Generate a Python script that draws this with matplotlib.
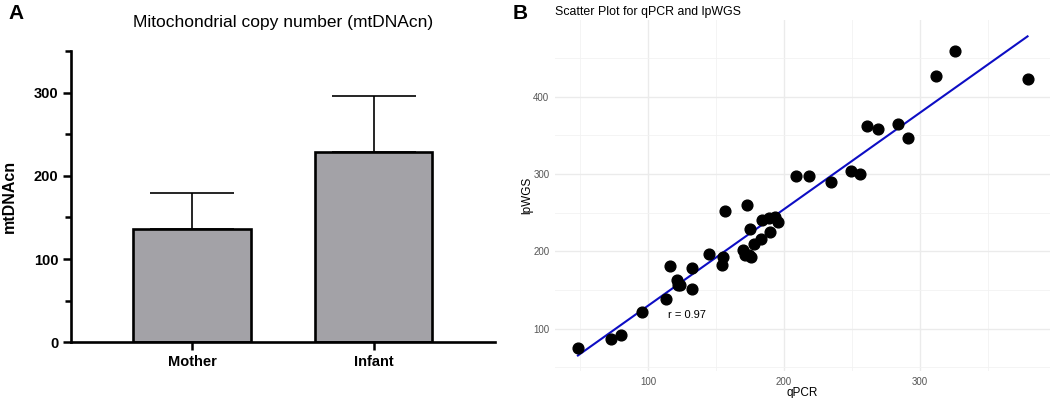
import numpy as np
import matplotlib
matplotlib.use("Agg")
import matplotlib.pyplot as plt
from matplotlib.ticker import MultipleLocator

plt.rcParams['font.family'] = ['Liberation Sans', 'DejaVu Sans']

# panel A data
groups = ['Mother', 'Infant']
mtdna_mean = [136, 228]
mtdna_err = [43, 68]

# panel B data
qpcr = [48.5, 72.8, 80.4, 95.3, 113.5, 116.4, 121.3, 121.8, 123.8, 132.1,
        132.4, 144.9, 154.7, 155.4, 156.6, 169.6, 171.1, 173.0, 174.0, 175.5,
        175.2, 177.9, 183.1, 183.6, 189.0, 189.7, 193.4, 195.6, 209.1, 218.6,
        234.8, 249.5, 255.9, 261.0, 269.1, 284.1, 291.2, 311.8, 326.2, 379.2]
lpwgs = [74.6, 86.2, 91.4, 121.1, 138.4, 180.6, 163.4, 156.9, 156.5, 150.9,
         178.9, 196.1, 182.3, 192.7, 251.7, 201.7, 195.7, 259.5, 195.7, 192.2,
         229.3, 209.1, 216.4, 240.1, 242.7, 225.0, 244.0, 238.4, 297.4, 297.4,
         290.1, 303.4, 300.0, 361.6, 357.8, 364.7, 346.6, 426.7, 459.5, 423.3]
r_label = 'r = 0.97'

fig = plt.figure(figsize=(10.53, 3.98), dpi=100)

# ---- panel A: bar chart ----
ax1 = fig.add_axes([0.0671, 0.140, 0.403, 0.732])
x = np.arange(len(groups))
ax1.bar(x, mtdna_mean, width=0.65, color='#a3a2a7', edgecolor='black',
        linewidth=1.9, zorder=2)
ax1.errorbar(x, mtdna_mean, yerr=[np.zeros(len(x)), mtdna_err], fmt='none',
             ecolor='black', elinewidth=1.2, capsize=30, capthick=1.2, zorder=1)
ax1.set_xlim(-0.67, 1.67)
ax1.set_ylim(0, 350)
ax1.set_xticks(x)
ax1.set_xticklabels(groups, fontweight='bold', fontsize=10.5)
ax1.yaxis.set_major_locator(MultipleLocator(100))
ax1.yaxis.set_minor_locator(MultipleLocator(50))
for lab in ax1.get_yticklabels():
    lab.set_fontweight('bold')
    lab.set_fontsize(10.5)
ax1.tick_params(axis='both', which='major', length=6, width=1.8, pad=3)
ax1.tick_params(axis='y', which='minor', length=4, width=1.8)
ax1.spines['top'].set_visible(False)
ax1.spines['right'].set_visible(False)
ax1.spines['left'].set_linewidth(1.9)
ax1.spines['bottom'].set_linewidth(1.9)
ax1.set_ylabel('mtDNAcn', fontweight='bold', fontsize=11.5, labelpad=12)
ax1.set_title('Mitochondrial copy number (mtDNAcn)', fontsize=12.5, pad=17)

# ---- panel B: scatter ----
ax2 = fig.add_axes([0.527, 0.0678, 0.470, 0.881])
ax2.set_xlim(31.6, 395.6)
ax2.set_ylim(45, 499)
ax2.xaxis.set_major_locator(MultipleLocator(100))
ax2.xaxis.set_minor_locator(MultipleLocator(50))
ax2.yaxis.set_major_locator(MultipleLocator(100))
ax2.yaxis.set_minor_locator(MultipleLocator(50))
ax2.grid(True, which='major', color='#ebebeb', linewidth=1.0, zorder=0)
ax2.grid(True, which='minor', color='#f2f2f2', linewidth=0.6, zorder=0)
for s in ax2.spines.values():
    s.set_visible(False)
ax2.tick_params(which='both', length=0, labelsize=7, labelcolor='#555555', pad=4)
ax2.scatter(qpcr, lpwgs, s=60, color='black', zorder=3)
slope, icpt = np.polyfit(qpcr, lpwgs, 1)
xl = np.array([min(qpcr), max(qpcr)])
ax2.plot(xl, slope * xl + icpt, color='#0d0dc4', linewidth=1.5, zorder=2)
ax2.text(114.7, 117, r_label, fontsize=8, ha='left', va='center')
ax2.set_xlabel('qPCR', fontsize=8.5, labelpad=0)
ax2.set_ylabel('lpWGS', fontsize=8.5, labelpad=0)
ax2.set_title('Scatter Plot for qPCR and lpWGS', fontsize=8.9, loc='left', x=0.0, pad=4)

fig.text(0.008, 0.965, 'A', fontsize=15, fontweight='bold', va='center')
fig.text(0.487, 0.965, 'B', fontsize=15, fontweight='bold', va='center')

fig.savefig('out.png', dpi=100)
